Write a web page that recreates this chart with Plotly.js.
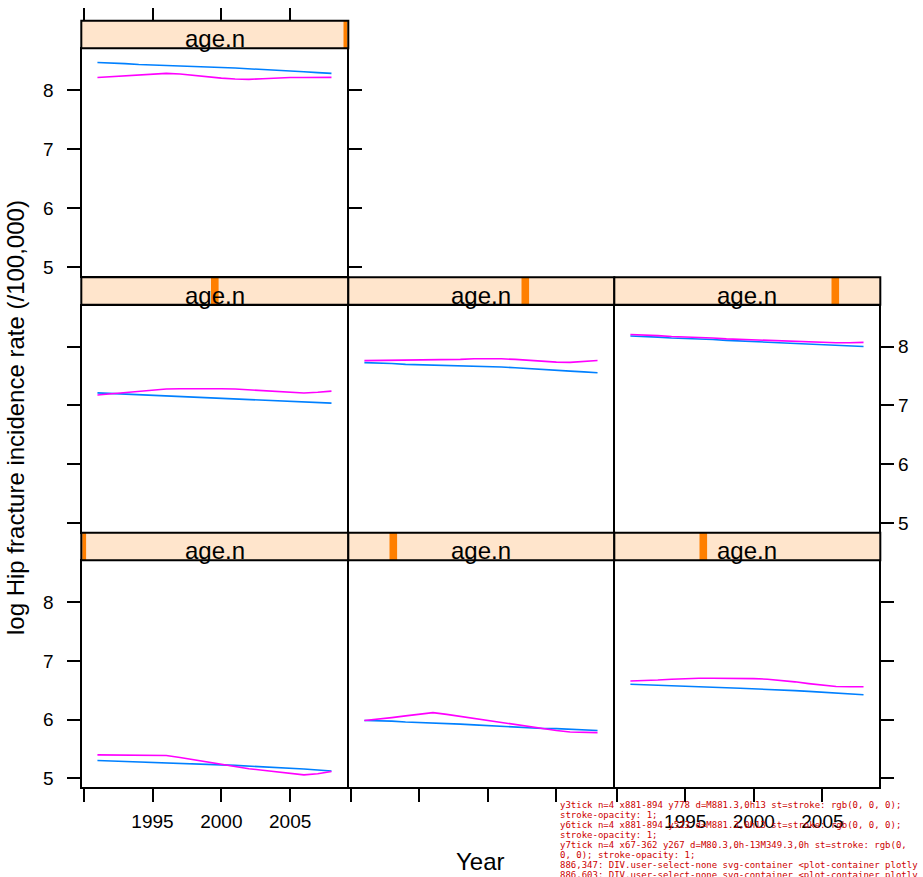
<!DOCTYPE html>
<html>
<head>
<meta charset="utf-8">
<script src="https://cdn.plot.ly/plotly-3.0.1.min.js"></script>
<style>html,body{margin:0;padding:0;background:#fff;overflow:hidden}#chart{width:923px;height:877px}
#dbg{position:absolute;left:560px;top:800px;width:360px;font:9px monospace;color:#c00;white-space:pre-wrap;z-index:10}</style>
</head>
<body>
<div id="chart"></div>
<div id="dbg"></div>
<script>
const years = [1991,1992,1993,1994,1995,1996,1997,1998,1999,2000,2001,2002,2003,2004,2005,2006,2007,2008];
const stripLabel = "age.n";
const xTickVals = [1990,1995,2000,2005];
const xTickText = ["","1995","2000","2005"];
const yTickVals = [5,6,7,8];
const yTickText = ["5","6","7","8"];
const xTitle = "Year";
const yTitle = "log Hip fracture incidence rate (/100,000)";
const levelFrac = [0, 1/6, 2/6, 3/6, 4/6, 5/6, 1];

const p1Blue    = [5.305,5.298,5.285,5.272,5.266,5.262,5.256,5.248,5.238,5.230,5.222,5.212,5.198,5.188,5.172,5.160,5.142,5.125];
const p1Magenta = [5.400,5.400,5.400,5.400,5.400,5.390,5.355,5.315,5.275,5.235,5.197,5.165,5.140,5.112,5.085,5.060,5.080,5.118];
const p2Blue    = [5.986,5.985,5.975,5.960,5.953,5.950,5.940,5.925,5.912,5.900,5.885,5.870,5.856,5.850,5.847,5.840,5.830,5.815];
const p2Magenta = [5.985,6.005,6.035,6.065,6.098,6.120,6.090,6.055,6.020,5.985,5.952,5.920,5.883,5.850,5.815,5.790,5.780,5.780];
const p3Blue    = [6.605,6.598,6.585,6.572,6.565,6.560,6.552,6.545,6.535,6.527,6.518,6.508,6.495,6.482,6.470,6.455,6.440,6.424];
const p3Magenta = [6.660,6.665,6.675,6.690,6.700,6.705,6.705,6.705,6.705,6.700,6.690,6.670,6.645,6.615,6.585,6.565,6.560,6.560];
const p4Blue    = [7.215,7.205,7.195,7.180,7.175,7.168,7.160,7.145,7.135,7.122,7.110,7.105,7.095,7.082,7.075,7.065,7.055,7.040];
const p4Magenta = [7.180,7.200,7.220,7.245,7.265,7.280,7.285,7.287,7.287,7.285,7.280,7.268,7.250,7.235,7.220,7.212,7.225,7.245];
const p5Blue    = [7.730,7.727,7.715,7.700,7.695,7.690,7.685,7.678,7.665,7.660,7.655,7.642,7.625,7.613,7.595,7.585,7.572,7.557];
const p5Magenta = [7.765,7.767,7.767,7.770,7.772,7.775,7.778,7.785,7.795,7.797,7.795,7.785,7.767,7.755,7.738,7.735,7.755,7.767];
const p6Blue    = [8.185,8.178,8.165,8.150,8.145,8.140,8.125,8.110,8.100,8.090,8.080,8.075,8.065,8.050,8.040,8.035,8.020,8.005];
const p6Magenta = [8.210,8.204,8.190,8.175,8.170,8.162,8.150,8.135,8.125,8.115,8.105,8.100,8.090,8.075,8.070,8.068,8.070,8.075];
const p7Blue    = [8.475,8.468,8.455,8.440,8.433,8.428,8.420,8.410,8.400,8.390,8.380,8.370,8.358,8.345,8.332,8.318,8.302,8.290];
const p7Magenta = [8.220,8.235,8.250,8.262,8.280,8.290,8.280,8.255,8.230,8.210,8.195,8.188,8.200,8.215,8.220,8.220,8.220,8.222];

const blueSeries = [p1Blue,p2Blue,p3Blue,p4Blue,p5Blue,p6Blue,p7Blue];
const magentaSeries = [p1Magenta,p2Magenta,p3Magenta,p4Magenta,p5Magenta,p6Magenta,p7Magenta];

const W = 923, H = 877;
const X = px => px / W;
const Y = px => 1 - px / H;
const LW = 2;
const TICKLEN = 13;
const cols = [[82.3,347.3],[349.3,613.3],[615.3,879.3]];
const rows = [
  [20.7, 49.2, 276.2],
  [277.2, 305.7, 531.7],
  [532.7, 561.2, 787.2]
];
const xRange = [1989.9, 2009.15];
const yRange = [4.85, 8.70];
const FONT = "Liberation Sans, Arial, Helvetica, sans-serif";
const BLUE = "#0080ff", MAG = "#ff00ff";

const panels = [
  {c:0, r:2, x:"bottom", xl:true,  y:"left",  yl:true},
  {c:1, r:2, x:"bottom", xl:false, y:null,    yl:false},
  {c:2, r:2, x:"bottom", xl:true,  y:"right", yl:false},
  {c:0, r:1, x:null,     xl:false, y:"left",  yl:false},
  {c:1, r:1, x:null,     xl:false, y:null,    yl:false},
  {c:2, r:1, x:null,     xl:false, y:"right", yl:true},
  {c:0, r:0, x:"top",    xl:false, y:"left",  yl:true, ymirror:true}
];

const traces = [];
const layout = {
  width: W, height: H,
  margin: {l:0, r:0, t:0, b:0},
  paper_bgcolor: "#fff", plot_bgcolor: "#fff",
  showlegend: false,
  font: {family: FONT, color: "#000", size: 19},
  shapes: [], annotations: []
};
const tickFont = {family: FONT, size: 19, color: "#000"};

panels.forEach((p, i) => {
  const n = i + 1;
  const xa = "xaxis" + (n === 1 ? "" : n), ya = "yaxis" + (n === 1 ? "" : n);
  const xr = "x" + (n === 1 ? "" : n), yr = "y" + (n === 1 ? "" : n);
  const [x0, x1] = cols[p.c];
  const [sTop, pTop, pBot] = rows[p.r];
  layout[xa] = {
    domain: [X(x0), X(x1)], anchor: yr, range: xRange,
    showline: true, mirror: true, linecolor: "#000", linewidth: LW,
    showgrid: false, zeroline: false, fixedrange: true,
    tickmode: "array", tickvals: xTickVals, ticktext: xTickText,
    ticks: (p.x === "bottom") ? "outside" : "", ticklen: TICKLEN, tickwidth: 2, tickcolor: "#000",
    side: "bottom", showticklabels: p.x === "bottom" && p.xl,
    tickfont: tickFont, ticklabelstandoff: 3
  };
  const yax = {
    domain: [Y(pBot), Y(pTop)], anchor: xr, range: yRange,
    showline: true, mirror: p.ymirror ? "ticks" : true, linecolor: "#000", linewidth: LW,
    showgrid: false, zeroline: false, fixedrange: true,
    tickmode: "array", tickvals: yTickVals, ticktext: yTickText,
    ticks: p.y ? "outside" : "", ticklen: TICKLEN, tickwidth: 2, tickcolor: "#000",
    side: p.y === "right" ? "right" : "left", showticklabels: !!(p.y && p.yl),
    tickfont: tickFont
  };
  if (p.y === "left") yax.ticklabelstandoff = 10;
  layout[ya] = yax;
  traces.push({type: "scatter", mode: "lines", x: years, y: blueSeries[i], xaxis: xr, yaxis: yr,
               line: {color: BLUE, width: 1.6}, hoverinfo: "skip"});
  traces.push({type: "scatter", mode: "lines", x: years, y: magentaSeries[i], xaxis: xr, yaxis: yr,
               line: {color: MAG, width: 1.6}, hoverinfo: "skip"});
  const sx0 = x0 - LW / 2, sx1 = x1 + LW / 2, sy0 = pTop - LW / 2;
  layout.shapes.push({type: "rect", xref: "paper", yref: "paper", layer: "above",
    x0: X(sx0), x1: X(sx1), y0: Y(sy0), y1: Y(sTop), fillcolor: "#ffe5cc", line: {width: 0}});
  const cx = x0 + levelFrac[i] * (x1 - x0);
  const bx0 = Math.max(x0, cx - 3.8), bx1 = Math.min(x1, cx + 3.8);
  layout.shapes.push({type: "rect", xref: "paper", yref: "paper", layer: "above",
    x0: X(bx0), x1: X(bx1), y0: Y(sy0), y1: Y(sTop), fillcolor: "#ff7f00", line: {width: 0}});
  layout.annotations.push({xref: "paper", yref: "paper", x: X((x0 + x1) / 2), y: Y(sTop + 17.8),
    xanchor: "center", yanchor: "middle", showarrow: false, text: stripLabel,
    font: {family: FONT, size: 24, color: "#000"}});
  layout.shapes.push({type: "rect", xref: "paper", yref: "paper", layer: "above",
    x0: X(sx0), x1: X(sx1), y0: Y(sy0), y1: Y(sTop), fillcolor: "rgba(0,0,0,0)", line: {color: "#000", width: LW}});
});

layout.xaxis8 = {
  overlaying: "x7", anchor: "free", position: Y(rows[0][0]), side: "top",
  range: xRange, showline: false, showgrid: false, zeroline: false, fixedrange: true,
  tickmode: "array", tickvals: xTickVals, ticktext: xTickText,
  ticks: "outside", ticklen: TICKLEN, tickwidth: 2, tickcolor: "#000", showticklabels: false
};
traces.push({type: "scatter", mode: "lines", x: [], y: [], xaxis: "x8", yaxis: "y7", hoverinfo: "skip"});

layout.annotations.push({xref: "paper", yref: "paper", x: X(480.8), y: Y(861), xanchor: "center", yanchor: "middle",
  showarrow: false, text: xTitle, font: {family: FONT, size: 24, color: "#000"}});
layout.annotations.push({xref: "paper", yref: "paper", x: X(15), y: Y(418), xanchor: "center", yanchor: "middle",
  showarrow: false, textangle: -90, text: yTitle, font: {family: FONT, size: 24, color: "#000"}});

Plotly.newPlot("chart", traces, layout, {staticPlot: true, displayModeBar: false}).then(() => {
  const out = [];
  ["y3tick","y6tick","y7tick"].forEach(c => {
    const ps = document.querySelectorAll("path." + c);
    const r = ps.length ? ps[0].getBoundingClientRect() : null;
    out.push(c + " n=" + ps.length + (r ? " x" + r.left.toFixed(0) + "-" + r.right.toFixed(0) + " y" + r.top.toFixed(0) : "") +
      (ps.length ? " d=" + (ps[0].getAttribute("d") || "").slice(0, 20) + " st=" + (ps[0].getAttribute("style") || "").slice(0, 40) : ""));
  });
  [[886,347],[886,603],[353,149]].forEach(([x,y]) => {
    const e = document.elementFromPoint(x, y);
    out.push(x + "," + y + ": " + (e ? e.tagName + "." + (e.getAttribute("class") || "") + " <" + (e.parentNode && e.parentNode.getAttribute ? e.parentNode.getAttribute("class") : "") : "none"));
  });
  document.getElementById("dbg").textContent = out.join("\n");
});
</script>
</body>
</html>
